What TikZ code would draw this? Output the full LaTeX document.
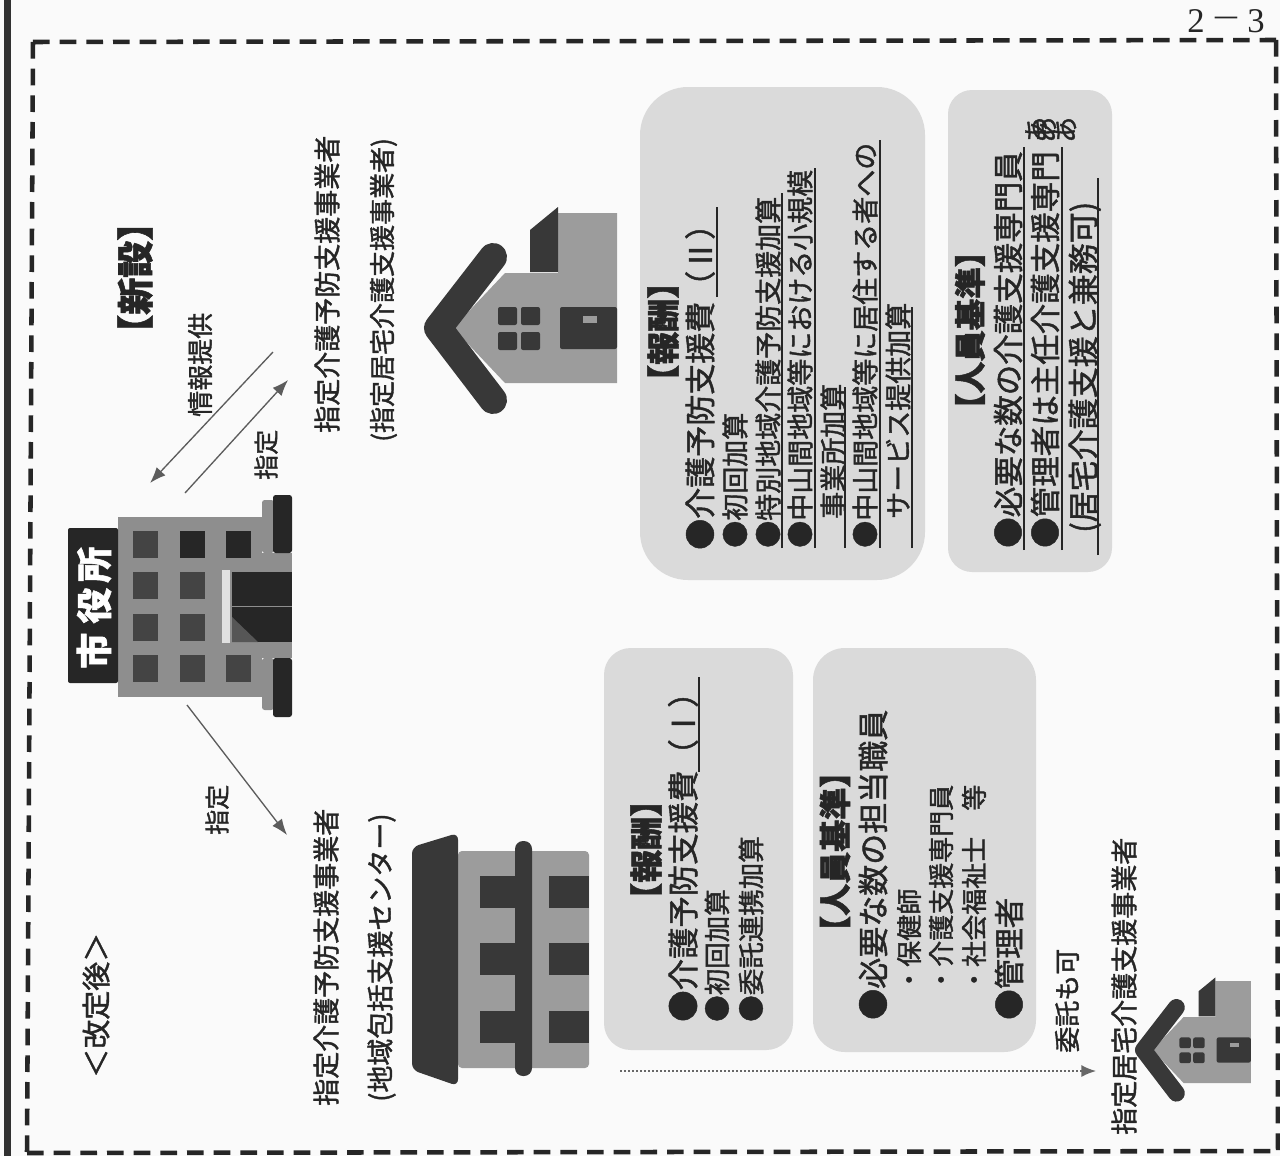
\documentclass[tikz,border=0pt]{standalone}
\usepackage{fontspec}
\setmainfont{Noto Sans CJK JP}[FakeBold=1.5]
\newfontfamily\numfont{Liberation Serif}
\usetikzlibrary{arrows.meta}
\definecolor{ink}{HTML}{262626}
\definecolor{panel}{HTML}{DADADA}
\definecolor{bodygray}{HTML}{9C9C9C}
\definecolor{cityGray}{HTML}{8E8E8E}
\definecolor{roofdark}{HTML}{383838}
\definecolor{winddark}{HTML}{444444}
\tikzset{
  x=0.75pt,y=-0.75pt,
  jtext/.style={rotate=90,anchor=base west,inner sep=0pt,text=ink},
  numtext/.style={inner sep=0pt,anchor=base,text=ink,font=\numfont\fontsize{26pt}{26pt}\selectfont},
  panelbox/.style={fill=panel,draw=none},
  ruleline/.style={draw=ink,line width=0.9pt},
  linkarrow/.style={draw=ink!75,line width=1pt,-{Latex[length=12pt,width=9pt]}},
  framedash/.style={draw=ink,line width=3.4pt,dash pattern=on 12.5pt off 7.5pt},
}
% name, centre x, start y (bottom of the rotated text), pitch in px, text
\newcommand\jt[5]{\pgfmathsetmacro\jtfs{#4*0.75}%
  \node[jtext,font=\fontsize{\jtfs pt}{\jtfs pt}\selectfont] (#1) at ({#2+0.38*#4},#3) {#5};}
\newcommand\jb[5]{\pgfmathsetmacro\jtfs{#4*0.75}%
  \node[jtext,font=\fontsize{\jtfs pt}{\jtfs pt}\selectfont\bfseries] (#1) at ({#2+0.38*#4},#3) {#5};}
\newcommand\drawhouse[3]{%
  \begin{scope}[shift={(#1,#2)},scale=#3]
    \fill[bodygray] (29,0) -- (81,-55) -- (134,-55) -- (134,-115) -- (193,-115) -- (193,55) -- (81,55) -- cycle;
    \fill[roofdark] (106,-98) -- (134,-121) -- (134,-56) -- (106,-56) -- cycle;
    \draw[roofdark,line width=#3*21pt,line cap=round,line join=round] (69,-71) -- (14,0) -- (69,72);
    \foreach \wx in {74,97}{\foreach \wy in {-21,4}{
      \fill[roofdark,rounded corners=1.5pt] (\wx,\wy) rectangle ++(19,18);}}
    \fill[roofdark,rounded corners=1.5pt] (136,-21) rectangle (193,21);
    \fill[bodygray] (159,-12) rectangle (173,-5);
  \end{scope}}
\begin{document}
\begin{tikzpicture}
\useasboundingbox (0,0) rectangle (1280,1156);
\fill[white!98!black] (0,0) rectangle (1280,1156);
% page edge rule and dashed frame
\fill[ink!95] (4,0) rectangle (11,1156);
\coordinate (frameTL) at (33,42);
\coordinate (frameTR) at (1276,40);
\coordinate (frameBL) at (27,1153);
\coordinate (frameBR) at (1278,1151);
\draw[framedash] (frameTL) -- (frameTR);
\draw[framedash] (frameBL) -- (frameBR);
\draw[framedash] (frameTL) -- (frameBL);
\draw[framedash] (frameTR) -- (frameBR);
\node[numtext] (pageA) at (1196,33) {2};
\node[numtext,xscale=1.4] (pageB) at (1226,29.5) {−};
\node[numtext] (pageC) at (1256,33) {3};

% panels
\fill[panelbox,rounded corners=36pt] (640,87) rectangle (925,580);
\fill[panelbox,rounded corners=18pt] (948,90) rectangle (1112,572);
\fill[panelbox,rounded corners=20pt] (604,648) rectangle (793,1050);
\fill[panelbox,rounded corners=24pt] (813,648) rectangle (1036,1052);

% city hall
\fill[cityGray] (118,517) rectangle (262,697);
\fill[cityGray] (262,553) rectangle (292,658);
\fill[cityGray,rounded corners=2pt] (262,500) rectangle (274,553);
\fill[cityGray,rounded corners=2pt] (262,658) rectangle (274,710);
\fill[ink,rounded corners=1.5pt] (68,528) rectangle (118,683);
\fill[ink,rounded corners=2pt] (273,495) rectangle (292,553);
\fill[ink,rounded corners=2pt] (273,658) rectangle (292,717);
\foreach \wx in {133,180}{\foreach \wy in {531,572,614,655}{
  \fill[winddark] (\wx,\wy) rectangle ++(25,27);}}
\foreach \wy in {531,655}{\fill[winddark] (226,\wy) rectangle ++(25,27);}
\fill[ink] (180,531) rectangle ++(25,27);
\fill[ink] (226,531) rectangle ++(25,27);
\fill[white!88!black] (222,570) rectangle (230,643);
\fill[ink] (232,572) rectangle (292,642);
\fill[roofdark!85!white] (232,617) -- (258,642) -- (232,642) -- cycle;
\draw[cityGray,line width=0.6pt] (232,606) -- (292,606);
\jb{cityA}{94}{669}{36}{\textcolor{white}{市}}
\jb{cityB}{94}{624}{36}{\textcolor{white}{役}}
\jb{cityC}{94}{583}{36}{\textcolor{white}{所}}

% community support centre building
\fill[bodygray,rounded corners=3pt] (458,851) rectangle (589,1068);
\fill[roofdark,rounded corners=5pt] (412,847) -- (458,833) -- (458,1086) -- (412,1070) -- cycle;
\foreach \wy in {876,943,1011}{
  \fill[roofdark] (480,\wy) rectangle (515,\wy+32);
  \fill[roofdark] (549,\wy) rectangle (589,\wy+32);}
\fill[roofdark,rounded corners=6pt] (515,841) rectangle (532,1076);

% houses
\drawhouse{424}{328}{1}
\drawhouse{1135}{1050}{0.6}

% headings and labels
\jt{kaiteigo}{96}{1078}{29}{＜改定後＞}
\jb{shinsetsu}{135}{352}{37}{【新設】}
\jt{joho}{200}{417}{26}{情報提供}
\jt{shitei1}{266}{480}{25}{指定}
\jt{shitei2}{217}{835}{25}{指定}
\jt{yobo1}{327}{433}{27}{指定介護予防支援事業者}
\jt{kyotaku1}{382}{442}{26}{(指定居宅介護支援事業者)}
\jt{yobo2}{326}{1106}{27}{指定介護予防支援事業者}
\jt{chiiki}{380}{1102}{27}{(地域包括支援センター)}

% upper fee panel
\jb{h2}{663}{398}{33}{【報酬】}
\jt{h2a}{700}{550}{31}{●介護予防支援費（Ⅱ）}
\jt{h2b}{735}{548}{27}{●初回加算}
\jt{h2c}{768}{548}{27}{●特別地域介護予防支援加算}
\jt{h2d}{800}{548}{27}{●中山間地域等における小規模}
\jt{h2e}{833}{519}{27}{事業所加算}
\jt{h2f}{865}{548}{27}{●中山間地域等に居住する者への}
\jt{h2g}{898}{519}{27}{サービス提供加算}
\draw[ruleline] (717,297) -- (717,207);
\draw[ruleline] (782,548) -- (782,193);
\draw[ruleline] (815,548) -- (815,168);
\draw[ruleline] (845,548) -- (845,387);
\draw[ruleline] (880,548) -- (880,140);
\draw[ruleline] (912,548) -- (912,307);

% upper staffing panel
\jb{j2}{970}{425}{31.5}{【人員基準】}
\jt{j2a}{1008}{548}{30.5}{●必要な数の介護支援専門員}
\jt{j2b}{1045}{548}{30.5}{●管理者は主任介護支援専門}
\jt{j2c}{1083}{533}{31}{(居宅介護支援と兼務可)}
\jt{a1}{1036}{143}{26}{あ}
\jt{a2}{1045}{143}{26}{あ}
\jt{a3}{1065}{143}{26}{あ}
\draw[ruleline] (1024,550) -- (1024,147);
\draw[ruleline] (1062,550) -- (1062,147);
\draw[ruleline] (1098,555) -- (1098,178);

% lower fee panel
\jb{h1}{646}{916}{33}{【報酬】}
\jt{h1a}{683}{1022}{31.4}{●介護予防支援費（Ⅰ）}
\jt{h1b}{717}{1022}{26.5}{●初回加算}
\jt{h1c}{751}{1022}{26.5}{●委託連携加算}
\draw[ruleline] (699,772) -- (699,677);

% lower staffing panel
\jb{j1}{835}{948}{32}{【人員基準】}
\jt{j1a}{873}{1020}{31}{●必要な数の担当職員}
\jt{j1b}{909}{993}{26}{・保健師}
\jt{j1c}{941}{993}{26}{・介護支援専門員}
\jt{j1d}{974}{993}{26}{・社会福祉士　等}
\jt{j1e}{1009}{1020}{30.5}{●管理者}

% commission
\jt{itaku}{1067}{1053}{26}{委託も可}
\jt{kyotaku2}{1124}{1135}{27}{指定居宅介護支援事業者}

% connectors
\coordinate (infoS) at (273,352);
\coordinate (infoE) at (150,483);
\coordinate (desS) at (185,493);
\coordinate (desE) at (288,380);
\coordinate (lowS) at (187,705);
\coordinate (lowE) at (287,835);
\coordinate (dotS) at (620,1071);
\coordinate (dotE) at (1096,1071);
\draw[linkarrow] (infoS) -- (infoE);
\draw[linkarrow] (desS) -- (desE);
\draw[linkarrow] (lowS) -- (lowE);
\draw[draw=ink!70,line width=1.1pt,dash pattern=on 1.5pt off 1.5pt,-{Latex[length=11pt,width=9pt]}] (dotS) -- (dotE);
\end{tikzpicture}
\end{document}
